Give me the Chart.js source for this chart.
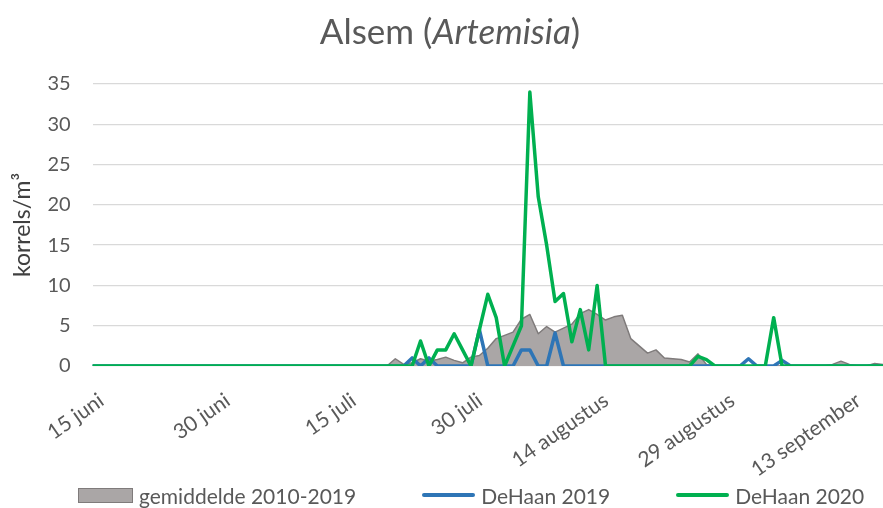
<!DOCTYPE html>
<html>
<head>
<meta charset="utf-8">
<script src="https://cdn.jsdelivr.net/npm/chart.js@4"></script>
<style>
    html, body { margin: 0; padding: 0; background: #fff; overflow: hidden; }
    #wrap { position: relative; width: 883px; height: 508px; }
    #title {
        position: absolute; top: 9px; left: 0; width: 900px;
        text-align: center; font: 35px Lato, sans-serif; color: #595959;
    }
    #legend {
        position: absolute; left: 78px; top: 482px; height: 26px;
        display: flex; align-items: center; gap: 66px;
        font: 21px Lato, sans-serif; color: #595959;
    }
    #legend .item { display: flex; align-items: center; gap: 6px; white-space: nowrap; }
    #legend .swatch { width: 53px; }
</style>
</head>
<body>
<div id="wrap">
    <canvas id="chart"></canvas>
    <div id="title">Alsem (<i>Artemisia</i>)</div>
    <div id="legend"></div>
</div>
<script>
// 15 juni .. 17 september, one category per day
const monthNames = ['januari', 'februari', 'maart', 'april', 'mei', 'juni', 'juli',
    'augustus', 'september', 'oktober', 'november', 'december']
const days = []
for (let i = 0; i < 95; i++) {
    const d = new Date(2020, 5, 15 + i)
    days.push(d.getDate() + ' ' + monthNames[d.getMonth()])
}

// only every 15th day gets a label
const tickLabels = ['15 juni', '30 juni', '15 juli', '30 juli', '14 augustus', '29 augustus', '13 september']

const gemiddelde = [
    0, 0, 0, 0, 0, 0, 0, 0, 0, 0,
    0, 0, 0, 0, 0, 0, 0, 0, 0, 0,
    0, 0, 0, 0, 0, 0, 0, 0, 0, 0,
    0, 0, 0, 0, 0, 0, 0.9, 0.2, 0.4, 0.9,
    0.6, 0.8, 1.1, 0.7, 0.4, 1.1, 1.3, 2.2, 3.4, 3.8,
    4.2, 5.8, 6.4, 4.0, 4.9, 4.2, 4.7, 5.2, 6.5, 7.0,
    6.4, 5.7, 6.1, 6.3, 3.4, 2.5, 1.6, 2.0, 1.0, 0.9,
    0.8, 0.5, 1.5, 0.2, 0, 0, 0, 0, 0, 0,
    0, 0, 0, 0, 0, 0, 0, 0, 0.2, 0.6,
    0.2, 0, 0, 0.3, 0.2,
]

const deHaan2019 = [
    0, 0, 0, 0, 0, 0, 0, 0, 0, 0,
    0, 0, 0, 0, 0, 0, 0, 0, 0, 0,
    0, 0, 0, 0, 0, 0, 0, 0, 0, 0,
    0, 0, 0, 0, 0, 0, 0, 0, 1, 0,
    1, 0, 0, 0, 0, 0, 4.5, 0, 0, 0,
    0, 2, 2, 0, 0, 4.1, 0, 0, 0, 0,
    0, 0, 0, 0, 0, 0, 0, 0, 0, 0,
    0, 0, 0, 0, 0, 0, 0, 0, 0.9, 0,
    0, 0, 0.7, 0, 0, 0, 0, 0, 0, 0,
    0, 0, 0, 0, 0,
]

const deHaan2020 = [
    0, 0, 0, 0, 0, 0, 0, 0, 0, 0,
    0, 0, 0, 0, 0, 0, 0, 0, 0, 0,
    0, 0, 0, 0, 0, 0, 0, 0, 0, 0,
    0, 0, 0, 0, 0, 0, 0, 0, 0, 3.1,
    0, 2, 2, 4, 2, 0, 4.5, 8.9, 6, 0,
    2.5, 5, 34, 21, 15, 8, 9, 3, 7, 2,
    10, 0, 0, 0, 0, 0, 0, 0, 0, 0,
    0, 0, 1.2, 0.8, 0, 0, 0, 0, 0, 0,
    0, 6, 0, 0, 0, 0, 0, 0, 0, 0,
    0, 0, 0, 0, 0,
]

const textColor = '#595959'

const chart = new Chart(document.getElementById('chart'), {
    type: 'line',
    data: {
        labels: days,
        datasets: [
            {
                label: 'gemiddelde 2010-2019',
                data: gemiddelde,
                fill: 'origin',
                backgroundColor: '#aaa6a6',
                borderColor: '#7f7b7b',
                borderWidth: 1.5,
                order: 3,
            },
            {
                label: 'DeHaan 2019',
                data: deHaan2019,
                borderColor: '#2e75b6',
                backgroundColor: '#2e75b6',
                borderWidth: 3.5,
                order: 2,
            },
            {
                label: 'DeHaan 2020',
                data: deHaan2020,
                borderColor: '#00b050',
                backgroundColor: '#00b050',
                borderWidth: 3.5,
                order: 1,
            },
        ],
    },
    options: {
        responsive: true,
        maintainAspectRatio: false,
        devicePixelRatio: 1,
        animation: false,
        layout: {
            padding: { top: 84, right: 0, bottom: 0, left: 0 },
        },
        elements: {
            point: { radius: 0, hoverRadius: 0 },
            line: { tension: 0, borderJoinStyle: 'round' },
        },
        plugins: {
            // legend is drawn as html below, it needs wider spacing than Chart.js allows
            legend: { display: false },
            tooltip: { enabled: false },
        },
        scales: {
            x: {
                grid: { display: false },
                border: { display: false },
                afterFit(scale) {
                    scale.height = 142
                },
                ticks: {
                    autoSkip: false,
                    minRotation: 35,
                    maxRotation: 35,
                    padding: 14,
                    labelOffset: 9,
                    color: textColor,
                    font: { family: 'Lato', size: 21 },
                    callback(value, index) {
                        return index % 15 === 0 ? tickLabels[index / 15] : null
                    },
                },
            },
            y: {
                min: 0,
                max: 35,
                afterFit(scale) {
                    scale.width = 92.6
                },
                border: { display: false },
                grid: { color: '#d9d9d9', lineWidth: 1.3, drawTicks: false },
                ticks: {
                    stepSize: 5,
                    autoSkip: false,
                    padding: 22,
                    color: textColor,
                    font: { family: 'Lato', size: 20 },
                },
                title: {
                    display: true,
                    text: 'korrels/m³',
                    color: '#404040',
                    padding: { top: 9 },
                    font: { family: 'Lato', size: 23 },
                },
            },
        },
    },
})

// legend: filled box for the area, short thick line for the line series
const legend = document.getElementById('legend')
chart.data.datasets.forEach((ds) => {
    const item = document.createElement('div')
    item.className = 'item'
    const swatch = document.createElement('span')
    swatch.className = 'swatch'
    if (ds.fill) {
        swatch.style.height = '13px'
        swatch.style.background = ds.backgroundColor
        swatch.style.border = '1px solid ' + ds.borderColor
    } else {
        swatch.style.height = '4px'
        swatch.style.borderRadius = '2px'
        swatch.style.background = ds.borderColor
    }
    const text = document.createElement('span')
    text.textContent = ds.label
    item.append(swatch, text)
    legend.append(item)
})
</script>
</body>
</html>
